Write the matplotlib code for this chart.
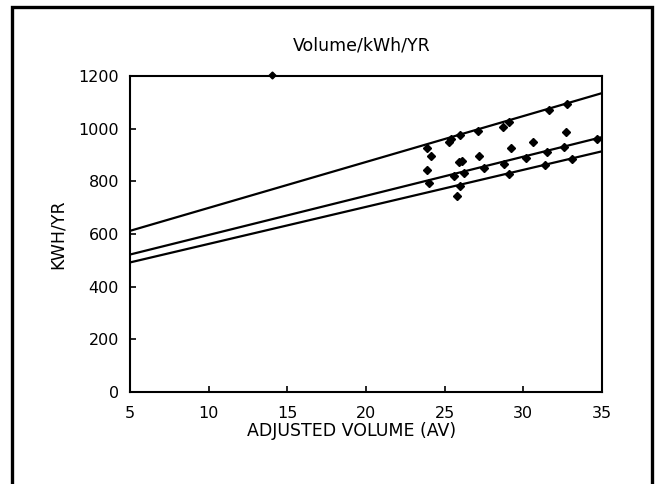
import numpy as np
import matplotlib.pyplot as plt
from matplotlib.patches import Rectangle

# data
line_x = [5, 35]
upper_line = [612, 1135]
middle_line = [522, 968]
lower_line = [492, 914]

pts_x = [24.1, 23.9, 25.9, 26.1, 27.2, 29.2, 30.6, 32.7, 25.8, 25.3, 28.7,
         23.9, 25.4, 26.0, 27.1, 29.1, 31.6, 32.8,
         24.0, 25.6, 26.2, 27.5, 28.8, 30.2, 31.5, 32.6, 34.7,
         26.0, 29.1, 31.4, 33.1]
pts_y = [898, 843, 875, 877, 895, 926, 950, 986, 746, 950, 1005,
         925, 962, 975, 993, 1027, 1072, 1094,
         795, 822, 833, 850, 867, 890, 912, 930, 960,
         783, 827, 862, 884]
edge_x = [14.0]
edge_y = [1205]

xticks = [5, 10, 15, 20, 25, 30, 35]
yticks = [0, 200, 400, 600, 800, 1000, 1200]

plt.rcParams['font.family'] = 'DejaVu Sans'

fig = plt.figure(figsize=(6.56, 4.84), dpi=100)
ax = fig.add_axes([130 / 656, 1 - 392 / 484, 472 / 656, 316 / 484])

ax.plot(line_x, upper_line, color='black', linewidth=1.6)
ax.plot(line_x, middle_line, color='black', linewidth=1.6)
ax.plot(line_x, lower_line, color='black', linewidth=1.6)
ax.plot(pts_x, pts_y, linestyle='none', marker='D', markersize=4.5, color='black')
ax.plot(edge_x, edge_y, linestyle='none', marker='D', markersize=3.5, color='black', clip_on=False)

ax.set_xlim(5, 35)
ax.set_ylim(0, 1200)
ax.set_xticks(xticks)
ax.set_yticks(yticks)
ax.tick_params(direction='in', length=4, width=1.2, labelsize=11.5, colors='black')
ax.tick_params(axis='x', pad=10)
ax.tick_params(axis='y', pad=8)
for s in ax.spines.values():
    s.set_linewidth(1.5)

ax.set_xlabel('ADJUSTED VOLUME (AV)', fontsize=12.5, va='center')
ax.xaxis.set_label_coords(0.47, -0.125)
ax.set_ylabel('KWH/YR', fontsize=12.5, va='center')
ax.yaxis.set_label_coords(-0.153, 0.5)

fig.text(362 / 656, 1 - 45 / 484, 'Volume/kWh/YR', fontsize=12.5, ha='center', va='center')

# outer frame of the scanned page
fig.add_artist(Rectangle((12 / 656, -0.05), 640 / 656, 1.05 - 7 / 484,
                         transform=fig.transFigure, fill=False,
                         edgecolor='black', linewidth=2.4))

fig.savefig('out.png', dpi=100)
